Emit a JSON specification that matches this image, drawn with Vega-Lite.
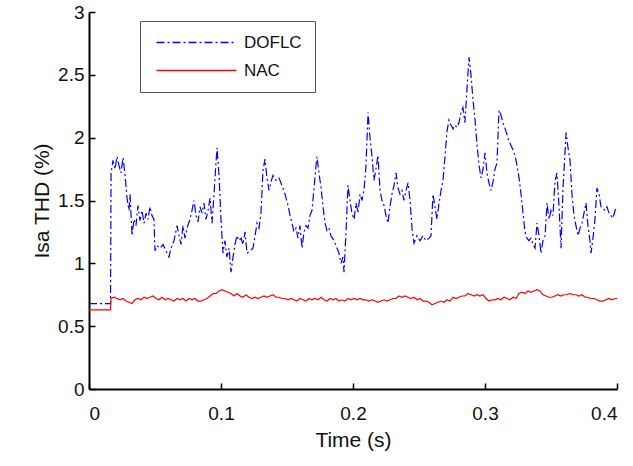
{
  "$schema": "https://vega.github.io/schema/vega-lite/v6.json",
  "width": 528,
  "height": 377,
  "autosize": "none",
  "padding": {"left": 89, "top": 12, "right": 16, "bottom": 77},
  "background": "white",
  "config": {
    "view": {"stroke": null},
    "font": "Liberation Sans",
    "axis": {
      "grid": false,
      "domainColor": "black",
      "domainWidth": 2,
      "tickColor": "black",
      "tickWidth": 1.5,
      "tickSize": -6,
      "labelFont": "Liberation Sans",
      "labelFontSize": 19,
      "labelColor": "#111",
      "titleFont": "Liberation Sans",
      "titleFontSize": 21,
      "titleFontWeight": "normal",
      "titleColor": "#111"
    }
  },
  "datasets": {
    "doflc": [
      {"t":0,"v":0.68},{"t":0.0163,"v":0.68},{"t":0.0167,"v":1.72},{"t":0.0182,"v":1.82},{"t":0.0197,"v":1.75},{"t":0.0212,"v":1.85},{"t":0.0227,"v":1.78},{"t":0.0242,"v":1.72},{"t":0.0258,"v":1.84},{"t":0.0273,"v":1.70},{"t":0.0288,"v":1.52},{"t":0.0303,"v":1.42},{"t":0.0311,"v":1.55},{"t":0.0326,"v":1.22},{"t":0.0341,"v":1.35},{"t":0.0356,"v":1.30},{"t":0.0371,"v":1.46},{"t":0.0386,"v":1.34},{"t":0.0402,"v":1.42},{"t":0.0417,"v":1.32},{"t":0.0432,"v":1.40},{"t":0.0447,"v":1.35},{"t":0.0462,"v":1.45},{"t":0.0477,"v":1.38},{"t":0.0492,"v":1.35},{"t":0.0500,"v":1.10},{"t":0.0515,"v":1.14},{"t":0.0538,"v":1.12},{"t":0.0561,"v":1.15},{"t":0.0583,"v":1.10},{"t":0.0606,"v":1.05},{"t":0.0621,"v":1.12},{"t":0.0644,"v":1.18},{"t":0.0667,"v":1.30},{"t":0.0682,"v":1.22},{"t":0.0697,"v":1.15},{"t":0.0712,"v":1.30},{"t":0.0727,"v":1.20},{"t":0.0742,"v":1.28},{"t":0.0765,"v":1.35},{"t":0.0780,"v":1.42},{"t":0.0795,"v":1.50},{"t":0.0811,"v":1.38},{"t":0.0826,"v":1.33},{"t":0.0841,"v":1.45},{"t":0.0856,"v":1.40},{"t":0.0871,"v":1.48},{"t":0.0886,"v":1.35},{"t":0.0902,"v":1.42},{"t":0.0917,"v":1.52},{"t":0.0932,"v":1.32},{"t":0.0947,"v":1.55},{"t":0.0962,"v":1.80},{"t":0.0970,"v":1.92},{"t":0.0985,"v":1.70},{"t":0.1000,"v":1.35},{"t":0.1015,"v":1.08},{"t":0.1030,"v":1.18},{"t":0.1045,"v":1.05},{"t":0.1061,"v":1.12},{"t":0.1076,"v":0.93},{"t":0.1091,"v":1.05},{"t":0.1106,"v":1.15},{"t":0.1121,"v":1.22},{"t":0.1136,"v":1.18},{"t":0.1152,"v":1.20},{"t":0.1167,"v":1.15},{"t":0.1182,"v":1.25},{"t":0.1197,"v":1.08},{"t":0.1220,"v":1.10},{"t":0.1242,"v":1.12},{"t":0.1258,"v":1.22},{"t":0.1273,"v":1.32},{"t":0.1288,"v":1.28},{"t":0.1303,"v":1.40},{"t":0.1318,"v":1.74},{"t":0.1333,"v":1.83},{"t":0.1348,"v":1.68},{"t":0.1364,"v":1.58},{"t":0.1379,"v":1.65},{"t":0.1394,"v":1.70},{"t":0.1417,"v":1.66},{"t":0.1439,"v":1.68},{"t":0.1462,"v":1.62},{"t":0.1485,"v":1.55},{"t":0.1508,"v":1.46},{"t":0.1523,"v":1.38},{"t":0.1538,"v":1.32},{"t":0.1553,"v":1.25},{"t":0.1568,"v":1.28},{"t":0.1583,"v":1.20},{"t":0.1598,"v":1.30},{"t":0.1614,"v":1.12},{"t":0.1629,"v":1.25},{"t":0.1644,"v":1.30},{"t":0.1659,"v":1.28},{"t":0.1674,"v":1.38},{"t":0.1689,"v":1.42},{"t":0.1705,"v":1.60},{"t":0.1720,"v":1.78},{"t":0.1727,"v":1.85},{"t":0.1742,"v":1.72},{"t":0.1758,"v":1.60},{"t":0.1773,"v":1.45},{"t":0.1788,"v":1.32},{"t":0.1803,"v":1.26},{"t":0.1818,"v":1.28},{"t":0.1833,"v":1.22},{"t":0.1856,"v":1.18},{"t":0.1879,"v":1.12},{"t":0.1894,"v":1.08},{"t":0.1909,"v":1.00},{"t":0.1924,"v":1.05},{"t":0.1932,"v":0.93},{"t":0.1947,"v":1.25},{"t":0.1962,"v":1.62},{"t":0.1977,"v":1.50},{"t":0.1992,"v":1.40},{"t":0.2008,"v":1.35},{"t":0.2023,"v":1.48},{"t":0.2038,"v":1.40},{"t":0.2053,"v":1.55},{"t":0.2068,"v":1.50},{"t":0.2083,"v":1.58},{"t":0.2098,"v":1.77},{"t":0.2114,"v":2.20},{"t":0.2129,"v":2.00},{"t":0.2144,"v":1.85},{"t":0.2159,"v":1.66},{"t":0.2174,"v":1.75},{"t":0.2189,"v":1.86},{"t":0.2205,"v":1.58},{"t":0.2220,"v":1.50},{"t":0.2235,"v":1.46},{"t":0.2250,"v":1.38},{"t":0.2265,"v":1.32},{"t":0.2280,"v":1.45},{"t":0.2295,"v":1.55},{"t":0.2311,"v":1.62},{"t":0.2326,"v":1.72},{"t":0.2341,"v":1.60},{"t":0.2356,"v":1.55},{"t":0.2371,"v":1.58},{"t":0.2386,"v":1.50},{"t":0.2402,"v":1.58},{"t":0.2417,"v":1.64},{"t":0.2432,"v":1.50},{"t":0.2447,"v":1.28},{"t":0.2462,"v":1.16},{"t":0.2485,"v":1.22},{"t":0.2508,"v":1.18},{"t":0.2530,"v":1.22},{"t":0.2553,"v":1.18},{"t":0.2576,"v":1.20},{"t":0.2591,"v":1.22},{"t":0.2606,"v":1.55},{"t":0.2621,"v":1.45},{"t":0.2636,"v":1.35},{"t":0.2652,"v":1.48},{"t":0.2667,"v":1.58},{"t":0.2682,"v":1.66},{"t":0.2697,"v":1.85},{"t":0.2712,"v":2.05},{"t":0.2727,"v":2.14},{"t":0.2742,"v":2.10},{"t":0.2758,"v":2.07},{"t":0.2773,"v":2.10},{"t":0.2788,"v":2.08},{"t":0.2803,"v":2.12},{"t":0.2818,"v":2.20},{"t":0.2833,"v":2.24},{"t":0.2848,"v":2.12},{"t":0.2864,"v":2.40},{"t":0.2879,"v":2.64},{"t":0.2894,"v":2.50},{"t":0.2909,"v":2.30},{"t":0.2924,"v":2.15},{"t":0.2939,"v":1.95},{"t":0.2955,"v":1.78},{"t":0.2970,"v":1.68},{"t":0.2985,"v":1.75},{"t":0.3000,"v":1.88},{"t":0.3015,"v":1.72},{"t":0.3030,"v":1.64},{"t":0.3045,"v":1.58},{"t":0.3061,"v":1.65},{"t":0.3076,"v":1.75},{"t":0.3091,"v":1.80},{"t":0.3106,"v":2.22},{"t":0.3121,"v":2.18},{"t":0.3136,"v":2.12},{"t":0.3159,"v":2.05},{"t":0.3182,"v":1.97},{"t":0.3205,"v":1.92},{"t":0.3227,"v":1.86},{"t":0.3242,"v":1.78},{"t":0.3258,"v":1.68},{"t":0.3273,"v":1.55},{"t":0.3288,"v":1.40},{"t":0.3303,"v":1.25},{"t":0.3318,"v":1.20},{"t":0.3333,"v":1.18},{"t":0.3348,"v":1.20},{"t":0.3364,"v":1.15},{"t":0.3379,"v":1.12},{"t":0.3394,"v":1.32},{"t":0.3409,"v":1.22},{"t":0.3424,"v":1.08},{"t":0.3439,"v":1.18},{"t":0.3455,"v":1.22},{"t":0.3470,"v":1.48},{"t":0.3485,"v":1.35},{"t":0.3500,"v":1.42},{"t":0.3515,"v":1.38},{"t":0.3530,"v":1.65},{"t":0.3545,"v":1.72},{"t":0.3561,"v":1.45},{"t":0.3576,"v":1.12},{"t":0.3591,"v":1.60},{"t":0.3606,"v":1.88},{"t":0.3614,"v":2.04},{"t":0.3629,"v":1.92},{"t":0.3644,"v":1.82},{"t":0.3659,"v":1.55},{"t":0.3674,"v":1.38},{"t":0.3689,"v":1.30},{"t":0.3705,"v":1.22},{"t":0.3720,"v":1.28},{"t":0.3735,"v":1.32},{"t":0.3750,"v":1.40},{"t":0.3765,"v":1.48},{"t":0.3780,"v":1.30},{"t":0.3795,"v":1.18},{"t":0.3803,"v":1.08},{"t":0.3818,"v":1.20},{"t":0.3833,"v":1.35},{"t":0.3848,"v":1.60},{"t":0.3864,"v":1.55},{"t":0.3879,"v":1.45},{"t":0.3894,"v":1.44},{"t":0.3909,"v":1.42},{"t":0.3924,"v":1.45},{"t":0.3939,"v":1.40},{"t":0.3955,"v":1.38},{"t":0.3970,"v":1.36},{"t":0.3985,"v":1.42},{"t":0.4000,"v":1.45}
    ],
    "nac": [
      {"t":0,"v":0.63},{"t":0.0163,"v":0.63},{"t":0.0167,"v":0.72},{"t":0.0189,"v":0.73},{"t":0.0212,"v":0.72},{"t":0.0235,"v":0.71},{"t":0.0258,"v":0.72},{"t":0.0280,"v":0.70},{"t":0.0303,"v":0.69},{"t":0.0326,"v":0.68},{"t":0.0348,"v":0.71},{"t":0.0371,"v":0.72},{"t":0.0394,"v":0.71},{"t":0.0417,"v":0.73},{"t":0.0439,"v":0.72},{"t":0.0462,"v":0.73},{"t":0.0485,"v":0.74},{"t":0.0508,"v":0.72},{"t":0.0530,"v":0.71},{"t":0.0553,"v":0.73},{"t":0.0576,"v":0.71},{"t":0.0598,"v":0.72},{"t":0.0621,"v":0.71},{"t":0.0644,"v":0.70},{"t":0.0667,"v":0.72},{"t":0.0689,"v":0.71},{"t":0.0712,"v":0.72},{"t":0.0735,"v":0.70},{"t":0.0758,"v":0.72},{"t":0.0780,"v":0.71},{"t":0.0803,"v":0.72},{"t":0.0826,"v":0.70},{"t":0.0848,"v":0.70},{"t":0.0871,"v":0.71},{"t":0.0894,"v":0.72},{"t":0.0917,"v":0.74},{"t":0.0939,"v":0.76},{"t":0.0962,"v":0.76},{"t":0.0985,"v":0.78},{"t":0.1008,"v":0.79},{"t":0.1030,"v":0.78},{"t":0.1053,"v":0.77},{"t":0.1076,"v":0.76},{"t":0.1098,"v":0.74},{"t":0.1121,"v":0.76},{"t":0.1144,"v":0.74},{"t":0.1167,"v":0.73},{"t":0.1189,"v":0.75},{"t":0.1212,"v":0.73},{"t":0.1235,"v":0.72},{"t":0.1258,"v":0.73},{"t":0.1280,"v":0.72},{"t":0.1303,"v":0.73},{"t":0.1326,"v":0.74},{"t":0.1348,"v":0.73},{"t":0.1371,"v":0.74},{"t":0.1394,"v":0.75},{"t":0.1417,"v":0.73},{"t":0.1439,"v":0.73},{"t":0.1462,"v":0.72},{"t":0.1485,"v":0.72},{"t":0.1508,"v":0.71},{"t":0.1530,"v":0.72},{"t":0.1553,"v":0.71},{"t":0.1576,"v":0.70},{"t":0.1598,"v":0.72},{"t":0.1621,"v":0.71},{"t":0.1644,"v":0.70},{"t":0.1667,"v":0.72},{"t":0.1689,"v":0.71},{"t":0.1712,"v":0.72},{"t":0.1735,"v":0.71},{"t":0.1758,"v":0.73},{"t":0.1780,"v":0.71},{"t":0.1803,"v":0.70},{"t":0.1826,"v":0.72},{"t":0.1848,"v":0.71},{"t":0.1871,"v":0.72},{"t":0.1894,"v":0.70},{"t":0.1917,"v":0.71},{"t":0.1939,"v":0.70},{"t":0.1962,"v":0.72},{"t":0.1985,"v":0.71},{"t":0.2008,"v":0.72},{"t":0.2030,"v":0.71},{"t":0.2053,"v":0.72},{"t":0.2076,"v":0.71},{"t":0.2098,"v":0.71},{"t":0.2121,"v":0.70},{"t":0.2144,"v":0.71},{"t":0.2167,"v":0.70},{"t":0.2189,"v":0.69},{"t":0.2212,"v":0.70},{"t":0.2235,"v":0.71},{"t":0.2258,"v":0.70},{"t":0.2280,"v":0.71},{"t":0.2303,"v":0.72},{"t":0.2326,"v":0.72},{"t":0.2348,"v":0.74},{"t":0.2371,"v":0.73},{"t":0.2394,"v":0.74},{"t":0.2417,"v":0.73},{"t":0.2439,"v":0.72},{"t":0.2462,"v":0.73},{"t":0.2485,"v":0.71},{"t":0.2508,"v":0.72},{"t":0.2530,"v":0.70},{"t":0.2553,"v":0.70},{"t":0.2576,"v":0.69},{"t":0.2598,"v":0.67},{"t":0.2621,"v":0.68},{"t":0.2644,"v":0.69},{"t":0.2667,"v":0.70},{"t":0.2689,"v":0.69},{"t":0.2712,"v":0.71},{"t":0.2735,"v":0.70},{"t":0.2758,"v":0.73},{"t":0.2780,"v":0.72},{"t":0.2803,"v":0.73},{"t":0.2826,"v":0.74},{"t":0.2848,"v":0.74},{"t":0.2871,"v":0.76},{"t":0.2894,"v":0.75},{"t":0.2917,"v":0.74},{"t":0.2939,"v":0.75},{"t":0.2962,"v":0.74},{"t":0.2985,"v":0.75},{"t":0.3008,"v":0.72},{"t":0.3030,"v":0.70},{"t":0.3053,"v":0.71},{"t":0.3076,"v":0.71},{"t":0.3098,"v":0.72},{"t":0.3121,"v":0.71},{"t":0.3144,"v":0.73},{"t":0.3167,"v":0.72},{"t":0.3189,"v":0.71},{"t":0.3212,"v":0.73},{"t":0.3235,"v":0.72},{"t":0.3258,"v":0.76},{"t":0.3280,"v":0.77},{"t":0.3303,"v":0.76},{"t":0.3326,"v":0.78},{"t":0.3348,"v":0.77},{"t":0.3371,"v":0.78},{"t":0.3394,"v":0.79},{"t":0.3417,"v":0.78},{"t":0.3439,"v":0.75},{"t":0.3462,"v":0.74},{"t":0.3485,"v":0.73},{"t":0.3508,"v":0.73},{"t":0.3530,"v":0.74},{"t":0.3553,"v":0.75},{"t":0.3576,"v":0.74},{"t":0.3598,"v":0.75},{"t":0.3621,"v":0.75},{"t":0.3644,"v":0.76},{"t":0.3667,"v":0.75},{"t":0.3689,"v":0.75},{"t":0.3712,"v":0.74},{"t":0.3735,"v":0.75},{"t":0.3758,"v":0.73},{"t":0.3780,"v":0.73},{"t":0.3803,"v":0.72},{"t":0.3826,"v":0.72},{"t":0.3848,"v":0.71},{"t":0.3871,"v":0.70},{"t":0.3894,"v":0.70},{"t":0.3917,"v":0.71},{"t":0.3939,"v":0.72},{"t":0.3962,"v":0.71},{"t":0.3985,"v":0.72},{"t":0.4000,"v":0.72}
    ]
  },
  "encoding": {
    "x": {"field": "t", "type": "quantitative", "title": "Time (s)",
      "scale": {"domain": [0, 0.4], "nice": false},
      "axis": {"values": [0, 0.1, 0.2, 0.3, 0.4], "format": "~g", "labelPadding": 21, "titlePadding": 6}},
    "y": {"field": "v", "type": "quantitative", "title": "Isa THD (%)",
      "scale": {"domain": [0, 3], "nice": false},
      "axis": {"values": [0, 0.5, 1, 1.5, 2, 2.5, 3], "format": "~g", "labelPadding": 11, "titlePadding": 5}}
  },
  "layer": [
    {
      "data": {"name": "doflc"},
      "mark": {"type": "line", "strokeWidth": 1.2, "strokeDash": [8, 3, 2, 3]},
      "encoding": {
        "color": {"datum": "DOFLC", "type": "nominal",
          "scale": {"domain": ["DOFLC", "NAC"], "range": ["#0000ff", "#ff0000"]},
          "legend": {
            "title": null, "orient": "none", "legendX": 51, "legendY": 9,
            "symbolType": "M-1,0H15", "symbolSize": 100, "symbolStrokeWidth": 1.3,
            "labelFontSize": 17, "labelFont": "Liberation Sans", "labelColor": "#111",
            "labelOffset": 74, "padding": 13, "rowPadding": 10,
            "strokeColor": "#555", "fillColor": "white",
            "encode": {
              "symbols": {"update": {"strokeDash": {"signal": "datum.value === 'DOFLC' ? [8,3,2,3] : [1,0]"}}}
            }
          }}
      }
    },
    {
      "data": {"name": "nac"},
      "mark": {"type": "line", "strokeWidth": 1.2},
      "encoding": {
        "color": {"datum": "NAC", "type": "nominal"}
      }
    }
  ]
}
